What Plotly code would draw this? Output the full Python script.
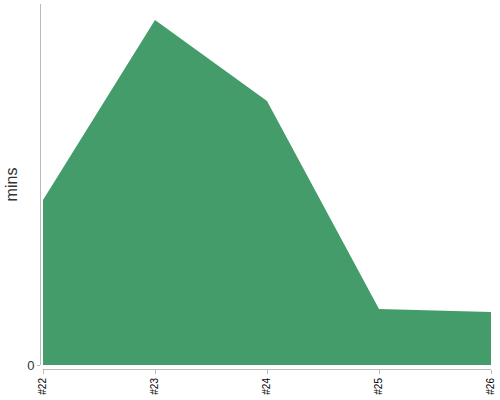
import plotly.graph_objects as go

# sprint labels and minutes per sprint
sprints = ["#22", "#23", "#24", "#25", "#26"]
minutes = [16.5, 34.5, 26.4, 5.6, 5.3]
y_top = 36.1

fig = go.Figure()
fig.add_trace(go.Scatter(
    x=sprints, y=minutes,
    mode="lines", fill="tozeroy",
    line=dict(width=0, color="#449c6b"),
    fillcolor="#449c6b",
    hoverinfo="x+y",
))

fig.update_layout(
    width=500, height=400,
    margin=dict(l=40, r=9, t=4, b=31, pad=0, autoexpand=False),
    paper_bgcolor="white", plot_bgcolor="white",
    font=dict(family="Liberation Sans, Arial, sans-serif", color="#333"),
    showlegend=False,
    xaxis=dict(
        type="category", range=[0, 4],
        domain=[3 / 451, 1],
        anchor="free", position=0,
        automargin=False,
        showgrid=False, zeroline=False,
        showline=True, linecolor="#bbb", linewidth=1,
        ticks="outside", ticklen=4, tickcolor="#bbb",
        tickangle=-90, tickfont=dict(size=10, color="#000"),
    ),
    yaxis=dict(
        range=[0, y_top],
        domain=[4 / 365, 1],
        anchor="free", position=0,
        automargin=False,
        showgrid=False, zeroline=False,
        showline=True, linecolor="#bbb", linewidth=1,
        ticks="outside", ticklen=3, tickcolor="#bbb",
        tickvals=[0], tickfont=dict(size=13, color="#333"),
        title=dict(text="mins", font=dict(size=16, color="#333"), standoff=4),
    ),
)

# page body has an 8px default margin; drop it so the figure sits at 0,0
fig.write_html("out.html", config={"displayModeBar": False},
               post_script="document.body.style.margin='0';")
